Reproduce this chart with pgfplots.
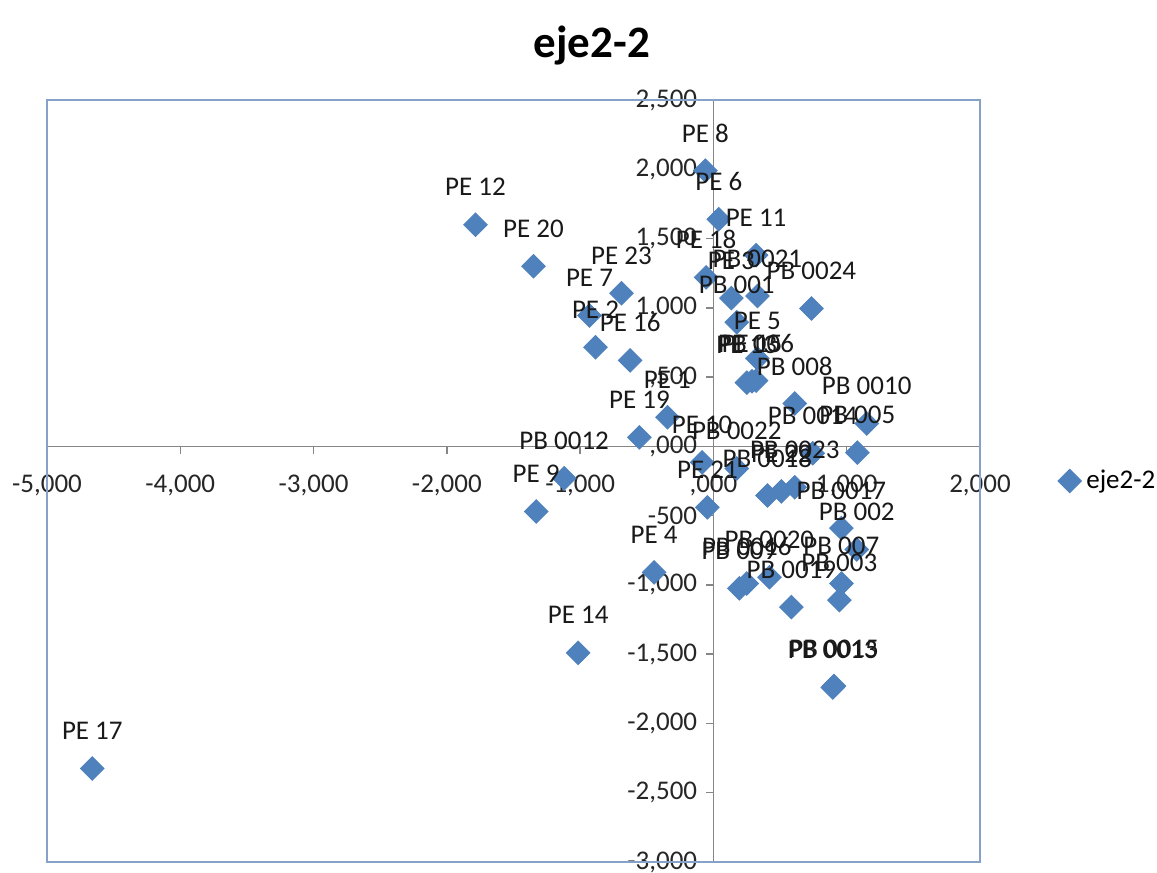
\documentclass[border=0pt]{standalone}
\usepackage{pgfplots}
\pgfplotsset{compat=1.18}
\usepackage{pgfplotstable}
\usepackage{fontspec}
\setmainfont{Carlito}

\definecolor{serie}{HTML}{4F81BD}
\definecolor{ejegris}{HTML}{868686}
\definecolor{marco}{HTML}{86A2C8}

% scores on the first two axes, one row per unit
\pgfplotstableread[col sep=comma]{
x,y,lbl
-60,1990,PE 8
40,1640,PE 6
320,1380,PE 11
-55,1220,PE 18
135,1070,PE 3
330,1085,PB 0021
-1785,1600,PE 12
-1350,1300,PE 20
-690,1105,PE 23
-930,945,PE 7
-885,715,PE 2
-625,620,PE 16
175,895,PB 001
735,995,PB 0024
330,635,PE 5
250,460,PE 13
290,470,PE 15
320,475,PB 006
610,310,PB 008
1150,165,PB 0010
745,-50,PB 0014
1080,-45,PB 005
-345,210,PE 1
-555,65,PE 19
-85,-115,PE 10
175,-160,PB 0022
405,-355,PB 0018
510,-325,PE 22
610,-295,PB 0023
-1120,-230,PB 0012
-1330,-470,PE 9
-45,-440,PE 21
960,-590,PB 0017
1075,-745,PB 002
-445,-910,PE 4
420,-945,PB 0020
250,-990,PB 0016
195,-1025,PB 009
960,-990,PB 007
945,-1110,PB 003
585,-1160,PB 0019
895,-1740,PB 0013
905,-1730,PB 0015
-1015,-1490,PE 14
-4660,-2325,PE 17
}\puntos

\begin{document}
\begin{tikzpicture}
\begin{axis}[
  scale only axis,
  width=373.2pt, height=304.8pt,
  xmin=-5000, xmax=2000, ymin=-3000, ymax=2500,
  axis lines=middle,
  axis line style={-, draw=ejegris, line width=0.6pt},
  inner axis line style={-},
  hide obscured x ticks=false, hide obscured y ticks=false,
  tick align=outside,
  major tick length=3pt,
  tick style={draw=ejegris, line width=0.6pt},
  xtick={-5000,-4000,...,2000},
  xticklabels={{-5,000},{-4,000},{-3,000},{-2,000},{-1,000},{,000},{1,000},{2,000}},
  ytick={-3000,-2500,...,2500},
  yticklabels={{-3,000},{-2,500},{-2,000},{-1,500},{-1,000},{-500},{,000},{,500},{1,000},{1,500},{2,000},{2,500}},
  ticklabel style={font=\fontsize{10.8}{13}\selectfont, text=black!85},
  xticklabel style={yshift=-5pt},
  title={eje2-2},
  title style={at={(0.584,1)}, anchor=base, yshift=11pt, font=\fontsize{18}{21}\selectfont\bfseries},
  legend style={at={(1.075,0.5)}, anchor=west, draw=none, fill=none,
    font=\fontsize{10.8}{13}\selectfont},
  legend cell align=left,
  clip=false,
]
\draw[marco, line width=0.7pt] (rel axis cs:0,0) rectangle (rel axis cs:1,1);
\coordinate (bl) at (rel axis cs:0,0);
\coordinate (tr) at (rel axis cs:1,1);
\addplot[only marks, mark=square*, mark size=3.3pt,
  mark options={rotate=45, fill=serie, draw=serie},
  nodes near coords, point meta=explicit symbolic,
  every node near coord/.append style={anchor=center, yshift=15pt,
    font=\fontsize{10.8}{13}\selectfont, text=black!90}]
  table[x=x, y=y, meta=lbl]{\puntos};
\addlegendentry{eje2-2}
\end{axis}
\pgfresetboundingbox
\path ([shift={(-18.8pt,-4.4pt)}]bl) rectangle ([shift={(70.8pt,40pt)}]tr);
\end{tikzpicture}
\end{document}
